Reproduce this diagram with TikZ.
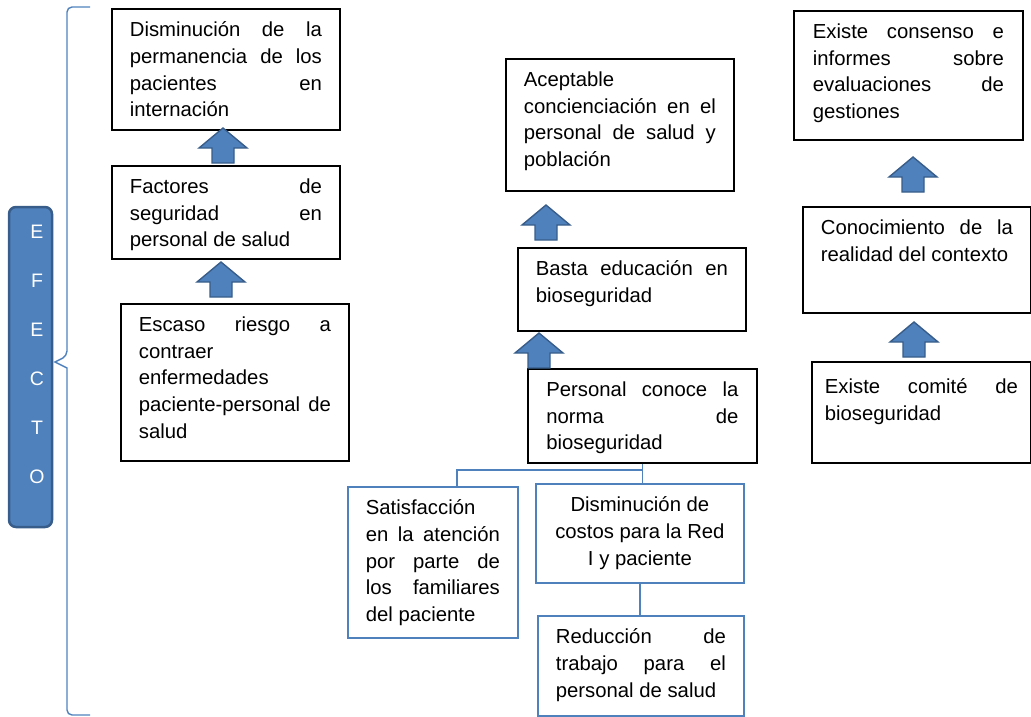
\documentclass[tikz,border=0pt]{standalone}
\usepackage{fontspec}
\setmainfont{Liberation Sans}
\usepackage{xcolor}
\usetikzlibrary{positioning}
\definecolor{azul}{HTML}{4F81BD}
\definecolor{azulosc}{HTML}{385D8A}
\tikzset{
    caja/.style={draw=black, line width=1.8pt, anchor=north west, inner xsep=0pt, inner ysep=13pt,
        font=\fontsize{20.3}{26.6}\selectfont},
    cajaazul/.style={caja, draw=azul},
    conector/.style={draw=azul, line width=1.4pt},
    llave/.style={draw=azul, line width=1.4pt},
    flecha/.style={fill=azul, draw=azulosc, line width=1.4pt},
    barra/.style={fill=azul, draw=azulosc, line width=2.5pt, rounded corners=7pt}}
% text inside a box: width, height, text
\newcommand{\txt}[3]{\parbox[c][#2pt][t]{#1pt}{\tolerance=10000\hbadness=10000 #3}}
% block arrow, tip at #1
\newcommand{\flecha}[1]{\draw[flecha, shift={(#1)}] (0,0) -- (24,20) -- (11,20) -- (11,35) -- (-11,35) -- (-11,20) -- (-24,20) -- cycle;}

\begin{document}
\begin{tikzpicture}[x=1pt, y=-1pt]

            \useasboundingbox (0,0) rectangle (1031,717);

            % efecto
            \draw[barra] (9,207) rectangle (52,527);
            \node[text=white, align=center, font=\fontsize{19.5}{49}\selectfont] (efecto) at (37,354.5) {E\\F\\E\\C\\T\\O};
            \draw[llave, rounded corners=5pt] (90,7) -- (67,7) -- (67,356) [sharp corners] -- (55,362) -- (67,368) [rounded corners=5pt] -- (67,715) -- (90,715);

            % columna izquierda
            \node[caja, minimum width=228pt] (b1) at (111,8) {\txt{192}{95}{Disminución de la\linebreak permanencia de los\linebreak pacientes en\linebreak internación}};
            \node[caja, minimum width=228pt] (b2) at (111,165) {\txt{192}{67}{Factores de\linebreak seguridad en\linebreak personal de salud}};
            \node[caja, minimum width=228pt] (b3) at (120,303) {\txt{192}{131}{Escaso riesgo a\linebreak contraer\linebreak enfermedades\linebreak paciente-personal de\linebreak salud}};

            % columna central
            \node[caja, minimum width=228pt] (b4) at (505,58) {\txt{192}{106}{Aceptable\linebreak concienciación en el\linebreak personal de salud y\linebreak población}};
            \node[caja, minimum width=228pt] (b5) at (517,247) {\txt{192}{57}{Basta educación en\linebreak bioseguridad}};
            \node[caja, minimum width=229pt] (b6) at (527,368) {\txt{192}{68}{Personal conoce la\linebreak norma de\linebreak bioseguridad}};
            \node[cajaazul, minimum width=170pt] (b7) at (347,486) {\txt{134}{125}{Satisfacción\linebreak en la atención\linebreak por parte de\linebreak los familiares\linebreak del paciente}};
            \node[cajaazul, minimum width=208pt] (b8) at (535,483) {\txt{172}{73}{\centering Disminución de\\ costos para la Red\\ I y paciente}};
            \node[cajaazul, minimum width=206pt] (b9) at (537,615) {\txt{170}{74}{Reducción de\linebreak trabajo para el\linebreak personal de salud}};

            % columna derecha
            \node[caja, minimum width=229pt] (b10) at (793,10) {\txt{191}{103}{Existe consenso e\linebreak informes sobre\linebreak evaluaciones de\linebreak gestiones}};
            \node[caja, minimum width=228pt] (b11) at (802,206) {\txt{192}{80}{Conocimiento de la\linebreak realidad del contexto}};
            \node[caja, minimum width=219pt] (b12) at (811,361) {\txt{193}{75}{\vspace*{4pt}Existe comité de\linebreak bioseguridad}};

            % flechas
            \flecha{223,128}
            \flecha{221,262}
            \flecha{546,205}
            \flecha{539,333}
            \flecha{913,157}
            \flecha{914,322}

            % conectores
            \coordinate (codo) at (457,470);
            \draw[conector] (b6.south) |- (codo) -- (codo |- b7.north);
            \draw[conector] (b6.south) -- (b6.south |- b8.north);
            \draw[conector] (b8.south) -- (b8.south |- b9.north);

\end{tikzpicture}
\end{document}
